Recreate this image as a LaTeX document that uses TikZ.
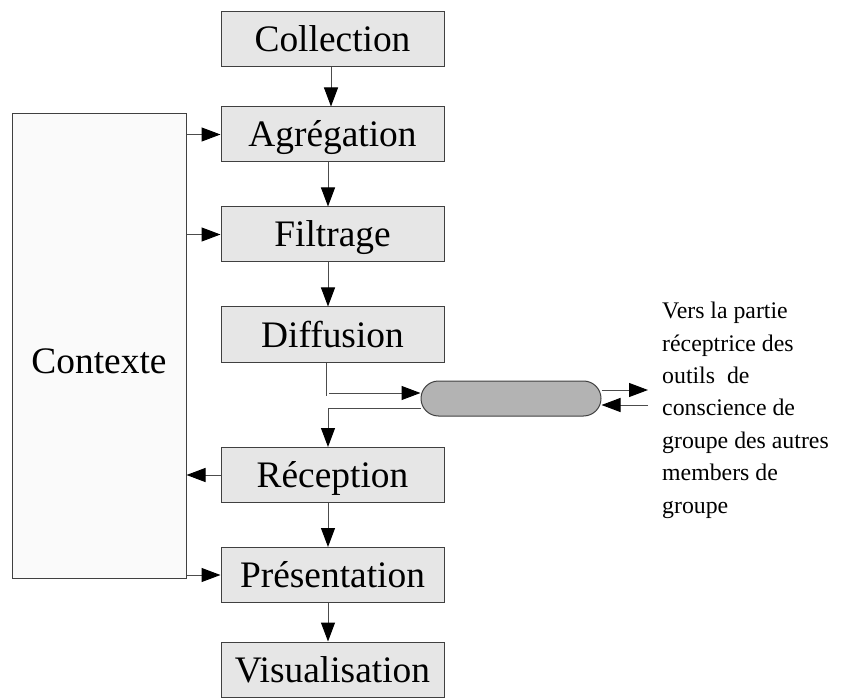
\documentclass[tikz,border=0pt]{standalone}
\usepackage{fontspec}
\setmainfont{Liberation Serif}
\usetikzlibrary{arrows.meta,positioning,shapes.misc}

\definecolor{boxgray}{HTML}{E6E6E6}
\definecolor{ctxgray}{HTML}{FAFAFA}
\definecolor{pillgray}{HTML}{B3B3B3}

\tikzset{
  stage/.style={draw=black!75, fill=boxgray, line width=1pt,
    minimum width=223pt, minimum height=55pt, inner sep=0pt,
    text height=25pt, text depth=0pt,
    font=\fontsize{37.4}{44}\selectfont},
  ctxbox/.style={draw=black!75, fill=ctxgray, line width=1pt,
    minimum width=174pt, minimum height=464pt, inner sep=0pt},
  pill/.style={rounded rectangle, draw=black!75, fill=pillgray, line width=1pt,
    minimum width=180pt, minimum height=35pt, inner sep=0pt},
  arr/.style={draw=black!70, line width=1pt,
    -{Triangle[length=19pt,width=14pt,color=black]}},
  plain/.style={draw=black!70, line width=1pt}
}

\begin{document}
\begin{tikzpicture}[x=1pt,y=-1pt]
  \useasboundingbox (0,0) rectangle (864,700);

  % the chain of stages
  \node[stage] (col) at (332.5,39.5) {Collection};
  \node[stage] (agr) at (332.5,134.5) {Agrégation};
  \node[stage] (fil) at (332.5,234.5) {Filtrage};
  \node[stage] (dif) at (332.5,334.5) {Diffusion};
  \node[stage] (rec) at (332.5,475) {Réception};
  \node[stage] (pre) at (332.5,575) {Présentation};
  \node[stage] (vis) at (332.5,669.5) {Visualisation};

  % context
  \node[ctxbox] (ctx) at (99,346) {};
  \node[anchor=base, inner sep=0pt, font=\fontsize{37.4}{44}\selectfont] (ctxlbl) at (99,373) {Contexte};

  % the channel to the other members
  \node[pill] (net) at (511,398.5) {};
  \node[anchor=north west, inner sep=0pt, align=left,
        font=\fontsize{23.8}{32.4}\selectfont] (dest) at (662,302)
    {Vers la partie\\réceptrice des\\outils \ de\\conscience de\\groupe des autres\\members de\\groupe};

  \draw[arr] ([xshift=-1.5pt]col.south) -- ([xshift=-1.5pt]col.south |- agr.north);
  \draw[arr] ([xshift=-4.5pt]agr.south) -- ([xshift=-4.5pt]agr.south |- fil.north);
  \draw[arr] ([xshift=-4.5pt]fil.south) -- ([xshift=-4.5pt]fil.south |- dif.north);
  \draw[arr] ([xshift=-4.5pt]rec.south) -- ([xshift=-4.5pt]rec.south |- pre.north);
  \draw[arr] ([xshift=-4.5pt]pre.south) -- ([xshift=-4.5pt]pre.south |- vis.north);

  % context links
  \draw[arr] (ctx.east |- agr.west) -- (agr.west);
  \draw[arr] (ctx.east |- fil.west) -- (fil.west);
  \draw[arr] (rec.west) -- (ctx.east |- rec.west);
  \draw[arr] (ctx.east |- pre.west) -- (pre.west);

  % diffusion to the channel and back to reception
  \coordinate (dend) at (326,396);
  \coordinate (dout) at (329,393);
  \coordinate (rin) at (328,408);
  \draw[plain] ([xshift=-6.5pt]dif.south) -- (dend);
  \draw[arr] (dout) -- (dout -| net.west);
  \draw[plain] ([yshift=-9.5pt]net.west) -- (rin);
  \draw[arr] (rin) -- (rin |- rec.north);

  \coordinate (outr) at (648,390);
  \coordinate (inr) at (648,405);
  \draw[arr] ([yshift=8.5pt]net.east) -- (outr);
  \draw[arr] (inr) -- ([yshift=-6.5pt]net.east);
\end{tikzpicture}
\end{document}
